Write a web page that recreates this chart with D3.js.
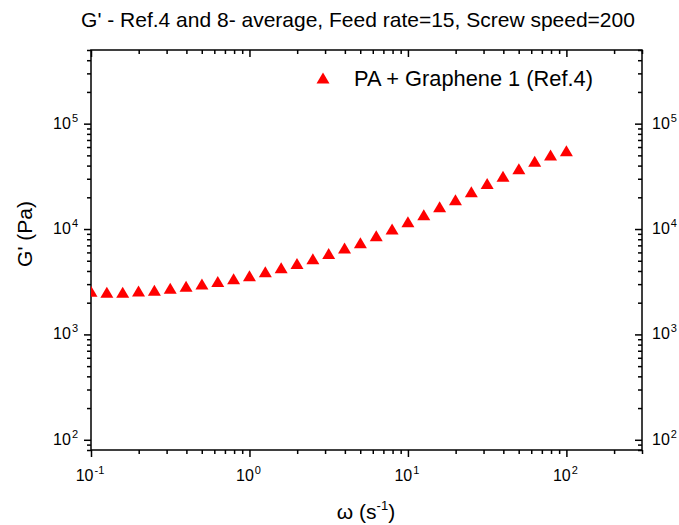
<!DOCTYPE html>
<html>
<head>
<meta charset="utf-8">
<script src="https://cdn.jsdelivr.net/npm/d3@7"></script>
<style>
  body { margin: 0; background: #fff; }
  text { font-family: Arial, "Liberation Sans", sans-serif; fill: #000; }
</style>
</head>
<body>
<div id="chart"></div>
<script>
// angular frequency (1/s), 10 points per decade
const omega = [0.1, 0.1259, 0.1585, 0.1995, 0.2512, 0.3162, 0.3981, 0.5012, 0.631, 0.7943,
  1, 1.259, 1.585, 1.995, 2.512, 3.162, 3.981, 5.012, 6.31, 7.943,
  10, 12.59, 15.85, 19.95, 25.12, 31.62, 39.81, 50.12, 63.1, 79.43, 100];
// storage modulus G' (Pa)
const gPrime = [2565, 2518, 2518, 2576, 2620, 2735, 2860, 3005, 3170, 3370,
  3595, 3925, 4285, 4710, 5215, 5845, 6605, 7430, 8650, 10000,
  11750, 13700, 16310, 19010, 22630, 26980, 31770, 37410, 43890, 50390, 55440];
const xExponents = [-1, 0, 1, 2];
const yExponents = [2, 3, 4, 5];
const seriesName = "PA + Graphene 1 (Ref.4)";
const chartTitle = "G' - Ref.4 and 8- average, Feed rate=15, Screw speed=200";

const width = 679;
const height = 525;
const margin = { top: 50, right: 37, bottom: 75, left: 91 };

const svg = d3.select("#chart")
  .append("svg")
  .attr("width", width)
  .attr("height", height);

const x = d3.scaleLog()
  .domain([0.1, 300])
  .range([margin.left, width - margin.right]);

const y = d3.scaleLog()
  .domain([80, 5e5])
  .range([height - margin.bottom, margin.top]);

const isMajor = v => Math.abs(Math.log10(v) - Math.round(Math.log10(v))) < 1e-9;
const xMinor = x.ticks().filter(v => !isMajor(v));
const yMinor = y.ticks().filter(v => !isMajor(v));
const xMajor = xExponents.map(e => Math.pow(10, e));
const yMajor = yExponents.map(e => Math.pow(10, e));

const bottomY = height - margin.bottom;
const rightX = width - margin.right;

function addAxis(axisFn, scale, values, size, transform) {
  const g = svg.append("g")
    .attr("transform", transform)
    .call(axisFn(scale).tickValues(values).tickSize(size).tickSizeOuter(0).tickFormat(""));
  g.select(".domain").remove();
  g.selectAll("line").attr("stroke", "#000").attr("stroke-width", 1.5);
}

// bottom & left: ticks out; top & right: ticks in
addAxis(d3.axisBottom, x, xMinor, 4, `translate(0,${bottomY})`);
addAxis(d3.axisBottom, x, xMajor, 7, `translate(0,${bottomY})`);
addAxis(d3.axisTop, x, xMinor, -4, `translate(0,${margin.top})`);
addAxis(d3.axisTop, x, xMajor, -7, `translate(0,${margin.top})`);
addAxis(d3.axisLeft, y, yMinor, 4, `translate(${margin.left},0)`);
addAxis(d3.axisLeft, y, yMajor, 7, `translate(${margin.left},0)`);
addAxis(d3.axisRight, y, yMinor, -4, `translate(${rightX},0)`);
addAxis(d3.axisRight, y, yMajor, -7, `translate(${rightX},0)`);

// frame
svg.append("rect")
  .attr("x", margin.left)
  .attr("y", margin.top)
  .attr("width", rightX - margin.left)
  .attr("height", bottomY - margin.top)
  .attr("fill", "none")
  .attr("stroke", "#000")
  .attr("stroke-width", 1.5);

// power-of-ten tick labels
function powerLabel(sel, exp) {
  sel.append("tspan").text("10");
  sel.append("tspan").attr("font-size", 11).attr("dx", 1).attr("dy", -7).text(exp);
}

xExponents.forEach(e => {
  svg.append("text")
    .attr("x", x(Math.pow(10, e)) - 1)
    .attr("y", bottomY + 31)
    .attr("text-anchor", "middle")
    .attr("font-size", 16)
    .call(powerLabel, e);
});

yExponents.forEach(e => {
  svg.append("text")
    .attr("x", margin.left - 13)
    .attr("y", y(Math.pow(10, e)) + 5)
    .attr("text-anchor", "end")
    .attr("font-size", 16)
    .call(powerLabel, e);
  svg.append("text")
    .attr("x", rightX + 10)
    .attr("y", y(Math.pow(10, e)) + 5)
    .attr("text-anchor", "start")
    .attr("font-size", 16)
    .call(powerLabel, e);
});

// triangle marker centred on its bounding box
const triangle = {
  draw(ctx) {
    ctx.moveTo(0, -5.5);
    ctx.lineTo(6.5, 5.5);
    ctx.lineTo(-6.5, 5.5);
    ctx.closePath();
  }
};

svg.append("clipPath")
  .attr("id", "plot-clip")
  .append("rect")
  .attr("x", margin.left)
  .attr("y", margin.top)
  .attr("width", rightX - margin.left)
  .attr("height", bottomY - margin.top);

svg.append("g")
  .attr("clip-path", "url(#plot-clip)")
  .selectAll("path")
  .data(omega.map((w, i) => [w, gPrime[i]]))
  .enter()
  .append("path")
  .attr("transform", d => `translate(${x(d[0])},${y(d[1])})`)
  .attr("d", d3.symbol().type(triangle))
  .attr("fill", "#ff0000");

// legend
svg.append("path")
  .attr("transform", "translate(323,78)")
  .attr("d", d3.symbol().type(triangle))
  .attr("fill", "#ff0000");
svg.append("text")
  .attr("x", 354)
  .attr("y", 86)
  .attr("font-size", 21.8)
  .text(seriesName);

// title
svg.append("text")
  .attr("x", 358)
  .attr("y", 27)
  .attr("text-anchor", "middle")
  .attr("font-size", 21)
  .text(chartTitle);

// axis titles
const xTitle = svg.append("text")
  .attr("x", 366)
  .attr("y", 519)
  .attr("text-anchor", "middle")
  .attr("font-size", 21);
xTitle.append("tspan").text("\u03c9 (s");
xTitle.append("tspan").attr("font-size", 13).attr("dy", -9).text("-1");
xTitle.append("tspan").attr("dy", 9).text(")");

svg.append("text")
  .attr("transform", "translate(32,234) rotate(-90)")
  .attr("text-anchor", "middle")
  .attr("font-size", 21)
  .text("G' (Pa)");
</script>
</body>
</html>
